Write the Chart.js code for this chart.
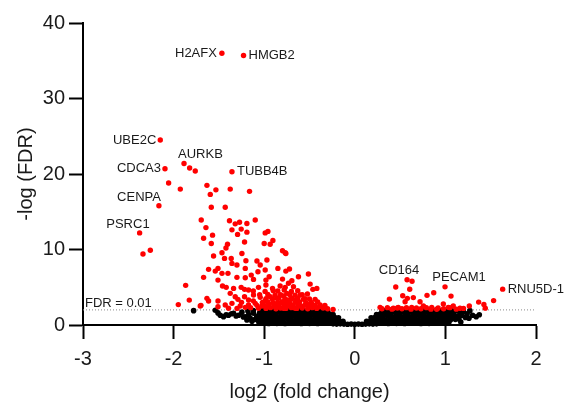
<!DOCTYPE html>
<html>
<head>
<meta charset="utf-8">
<script src="https://cdn.jsdelivr.net/npm/chart.js@4/dist/chart.umd.min.js"></script>
<style>
  html, body { margin: 0; padding: 0; background: #fff; }
  #wrap { width: 565px; height: 406px; }
</style>
</head>
<body>
<div id="wrap"><canvas id="volcano"></canvas></div>
<script>
// ── volcano plot: log2 fold change vs -log FDR ──────────────────

// labelled genes
const geneNames = ['H2AFX', 'HMGB2', 'UBE2C', 'CDCA3', 'AURKB', 'TUBB4B', 'CENPA', 'PSRC1', 'CD164', 'PECAM1', 'RNU5D-1'];
const geneX = [-1.467, -1.228, -2.147, -2.095, -1.885, -1.356, -2.162, -2.375, 0.577, 0.996, 1.632];
const geneY = [36.0, 35.7, 24.5, 20.7, 21.4, 20.3, 15.8, 12.2, 6.0, 5.05, 4.75];

// significant (FDR < 0.01) – red
const sigX = [
  -1.823, -1.761, -2.055, -1.926, -1.632, -1.595, -1.533, -1.375, -1.162,
  -2.257, -2.338, -1.584, -1.430,
  -1.695, -1.383, -1.320, -1.272, -1.191, -1.099,
  -1.643, -1.356, -1.254, -1.294, -1.191, -0.989, -0.959,
  -1.570, -1.669, -1.584, -1.217, -0.904, -1.000, -0.934,
  -1.405, -1.422, -1.466, -1.559, -1.438, -1.364, -1.246,
  -1.356, -1.301, -1.202, -1.080, -0.970, -0.798, -0.768, -1.044, -1.209,
  -1.614, -1.540, -1.510, -1.466, -1.400, -1.143, -1.069, -0.989, -0.849, -0.761,
  -1.669, -1.510, -1.301, -1.209, -1.118, -0.981, -0.945, -0.798,
  -1.460, -1.419, -1.338, -1.254, -1.217, -1.173, -1.063, -0.981, -0.908, -0.824, -0.768,
  -1.632, -1.614, -1.510, -1.375, -1.320, -1.290, -1.217, -1.173, -1.118, -1.044, -0.989, -0.934, -0.860, -0.787, -0.732,
  -1.706, -1.510, -1.430, -1.356, -1.265, -1.173, -1.099, -1.025, -0.945, -0.879, -0.824, -0.750,
  -1.394, -1.209, -1.063,
  -0.761, -0.721, -0.622, -0.512, -0.732, -0.695, -0.677, -0.493, -0.463, -0.779, -0.750,
  -0.603, -0.523, -0.567, -0.647, -0.438, -0.695, -0.768, -0.713, -0.622, -0.529, -0.456,
  -0.390, -0.383, -0.240, -0.584, -0.658, -0.787, -0.419,
  -1.867, -1.827, -1.948, -1.698,
  -0.98, -0.93, -0.87, -0.82, -0.76, -0.70, -0.64, -0.58, -0.52, -0.47, -0.42, -0.35, -0.30,
  -1.00, -0.95, -0.89, -0.84, -0.78, -0.68, -0.60, -0.55, -0.50, -0.44, -0.33,
  -1.02, -0.96, -0.90, -0.85, -0.80, -0.72, -0.66, -0.61, -0.54, -0.48, -0.41,
  -0.98, -0.91, -0.84, -0.77, -0.70, -0.63, -0.55, -0.50,
  -1.05, -0.96, -0.88, -0.82, -0.72, -0.66, -0.58,
  -1.12, -0.99, -0.90, -0.85, -0.70, -0.63,
  -1.30, -1.25, -1.15, -1.12, -1.08,
  0.632, 0.452, 0.606, 0.871, 0.797, 1.062, 0.529, 0.580, 0.646, 0.382,
  1.367, 1.532, 1.264, 1.425, 1.440,
  0.480, 0.555, 0.720, 0.757, 0.849, 0.977, 1.032, 1.087, 1.161, 0.279, 0.426, 0.628, 0.904,
  0.30, 0.36, 0.41, 0.47, 0.52, 0.57, 0.62, 0.68, 0.73, 0.79, 0.84, 0.92, 0.98, 1.05, 1.12, 1.20
];
const sigY = [
  20.8, 20.4, 18.8, 18.0, 18.5, 17.3, 17.9, 18.0, 17.7,
  9.9, 9.4, 15.6, 15.6,
  13.9, 13.8, 13.4, 13.6, 13.45, 13.9,
  12.9, 12.6, 12.7, 12.0, 12.3, 12.2, 12.4,
  11.9, 11.5, 10.8, 11.0, 11.2, 10.8, 10.7,
  10.7, 10.2, 9.56, 9.13, 8.82, 8.82, 9.48,
  8.16, 7.94, 8.51, 8.47, 8.60, 9.83, 9.56, 7.94, 7.50,
  7.37, 7.14, 7.50, 6.84, 6.84, 6.61, 7.05, 7.28, 7.50, 7.14,
  6.31, 5.95, 6.31, 6.26, 6.04, 5.95, 6.39, 6.08,
  5.16, 4.99, 4.85, 4.99, 4.72, 4.63, 4.99, 5.29, 4.85, 5.16, 4.99,
  3.53, 3.17, 3.17, 4.19, 3.74, 3.40, 3.74, 3.31, 3.97, 3.66, 3.21, 3.74, 3.53, 3.84, 3.31,
  2.51, 2.42, 2.65, 2.87, 2.51, 2.65, 2.87, 2.51, 2.78, 2.51, 2.87, 2.51,
  2.21, 2.34, 2.21,
  9.48, 7.41, 6.39, 6.75, 5.52, 5.86, 5.07, 5.42, 4.72, 4.63, 4.19,
  3.97, 4.10, 3.40, 3.31, 3.40, 3.53, 3.08, 2.65, 2.65, 2.78, 2.65,
  2.42, 2.65, 2.05, 2.42, 2.21, 2.21, 4.85,
  5.25, 3.3, 2.7, 2.6,
  2.2, 2.3, 2.15, 2.25, 2.2, 2.3, 2.2, 2.25, 2.15, 2.3, 2.2, 2.25, 2.15,
  2.6, 2.65, 2.55, 2.6, 2.7, 2.6, 2.55, 2.65, 2.6, 2.55, 2.6,
  3.0, 3.05, 2.95, 3.0, 3.1, 2.95, 3.0, 3.05, 2.95, 3.0, 3.05,
  3.5, 3.45, 3.55, 3.5, 3.45, 3.55, 3.5, 3.45,
  4.0, 4.05, 3.95, 4.0, 4.05, 3.95, 4.0,
  4.5, 4.45, 4.55, 4.5, 4.45, 4.55,
  2.2, 3.0, 2.3, 3.2, 2.6,
  5.8, 5.03, 4.73, 4.27, 3.93, 3.83, 3.88, 3.53, 3.63, 3.43,
  3.03, 3.23, 2.53, 2.73, 2.23,
  2.34, 3.08, 3.08, 2.51, 2.34, 2.78, 2.34, 2.51, 2.21, 2.34, 2.21, 2.34, 2.08,
  2.15, 2.3, 2.1, 2.25, 2.15, 2.3, 2.1, 2.25, 2.15, 2.3, 2.1, 2.25, 2.15, 2.3, 2.1, 2.2
];

// not significant – black
const nsX = [
  -1.04, -0.99, -0.95, -0.90, -0.86, -0.81, -0.77, -0.72, -0.68, -0.63, -0.59, -0.54, -0.50, -0.45, -0.41, -0.36, -0.32, -0.28,
  -1.06, -1.01, -0.97, -0.92, -0.88, -0.83, -0.79, -0.74, -0.70, -0.65, -0.61, -0.56, -0.52, -0.47, -0.43, -0.38, -0.34, -0.29,
  -1.08, -1.03, -0.98, -0.94, -0.89, -0.85, -0.80, -0.76, -0.71, -0.67, -0.62, -0.58, -0.53, -0.49, -0.44, -0.40, -0.35, -0.31,
  -1.05, -1.00, -0.96, -0.91, -0.87, -0.82, -0.78, -0.73, -0.69, -0.64, -0.60, -0.55, -0.51, -0.46, -0.42, -0.37, -0.33,
  -1.02, -0.97, -0.93, -0.88, -0.84, -0.79, -0.75, -0.70, -0.66, -0.61, -0.57, -0.52, -0.48, -0.43, -0.39, -0.34,
  -1.02, -0.95, -0.88, -0.81, -0.74, -0.67, -0.60, -0.53, -0.46, -0.39, -0.32,
  -1.779, -1.54, -1.51, -1.485, -1.449, -1.42, -1.394, -1.36, -1.338, -1.31, -1.283, -1.246, -1.23,
  -1.209, -1.191, -1.17, -1.154, -1.135, -1.118, -1.10, -1.08, -1.06, -1.044, -1.12, -1.18,
  -0.24, -0.20, -0.16, -0.12, -0.08, -0.04, 0.0, 0.04, 0.08, 0.12, 0.16, 0.20, 0.24,
  -0.26, -0.21, -0.17, -0.13, 0.13, 0.17, 0.21, 0.26,
  -0.27, -0.22, -0.18, 0.18, 0.22, 0.27,
  -0.28, -0.24, 0.24, 0.28,
  -0.30, 0.30,
  0.28, 0.32, 0.37, 0.41, 0.46, 0.50, 0.55, 0.59, 0.64, 0.68, 0.73, 0.77, 0.82, 0.86, 0.91, 0.95, 1.00, 1.04,
  0.30, 0.34, 0.39, 0.43, 0.48, 0.52, 0.57, 0.61, 0.66, 0.70, 0.75, 0.79, 0.84, 0.88, 0.93, 0.97, 1.02, 1.06, 1.11,
  0.31, 0.36, 0.40, 0.45, 0.49, 0.54, 0.58, 0.63, 0.67, 0.72, 0.76, 0.81, 0.85, 0.90, 0.94, 0.99, 1.03, 1.08, 1.13,
  0.32, 0.37, 0.41, 0.46, 0.50, 0.55, 0.59, 0.64, 0.68, 0.73, 0.77, 0.82, 0.86, 0.91, 0.95, 1.00, 1.04, 1.09, 1.16,
  0.34, 0.39, 0.43, 0.48, 0.52, 0.57, 0.61, 0.66, 0.70, 0.75, 0.79, 0.84, 0.88, 0.93, 0.97, 1.02, 1.07, 1.12,
  0.35, 0.42, 0.49, 0.56, 0.63, 0.70, 0.77, 0.84, 0.91, 0.98, 1.05,
  1.15, 1.18, 1.20, 1.22, 1.24, 1.26, 1.30, 1.34, 1.374, 1.27, 1.17
];
const nsY = [
  0.25, 0.3, 0.2, 0.28, 0.22, 0.3, 0.2, 0.27, 0.23, 0.3, 0.2, 0.28, 0.22, 0.3, 0.2, 0.27, 0.3, 0.35,
  0.7, 0.65, 0.75, 0.7, 0.65, 0.72, 0.68, 0.75, 0.7, 0.65, 0.72, 0.7, 0.75, 0.66, 0.7, 0.74, 0.68, 0.72,
  1.15, 1.2, 1.1, 1.15, 1.2, 1.1, 1.18, 1.12, 1.15, 1.2, 1.1, 1.16, 1.14, 1.2, 1.1, 1.15, 1.18, 1.2,
  1.6, 1.55, 1.65, 1.6, 1.55, 1.62, 1.58, 1.65, 1.6, 1.55, 1.62, 1.6, 1.65, 1.56, 1.6, 1.64, 1.6,
  1.92, 1.95, 1.9, 1.93, 1.95, 1.9, 1.94, 1.92, 1.95, 1.9, 1.93, 1.95, 1.9, 1.92, 1.95, 1.9,
  0.95, 1.4, 0.45, 0.95, 1.4, 0.45, 0.95, 1.4, 0.45, 0.95, 1.4,
  1.9, 1.95, 1.6, 1.3, 1.1, 1.35, 1.3, 1.5, 1.55, 1.2, 1.3, 1.7, 1.05,
  1.1, 0.66, 1.4, 0.89, 0.5, 1.55, 0.75, 1.1, 0.4, 0.66, 1.9, 1.85,
  0.15, 0.12, 0.15, 0.12, 0.1, 0.12, 0.1, 0.12, 0.1, 0.12, 0.15, 0.12, 0.15,
  0.55, 0.55, 0.5, 0.5, 0.5, 0.5, 0.55, 0.55,
  1.0, 1.0, 0.95, 0.95, 1.0, 1.0,
  1.45, 1.4, 1.4, 1.45,
  1.85, 1.85,
  0.25, 0.3, 0.2, 0.28, 0.22, 0.3, 0.2, 0.27, 0.23, 0.3, 0.2, 0.28, 0.22, 0.3, 0.25, 0.3, 0.35, 0.4,
  0.7, 0.65, 0.75, 0.7, 0.65, 0.72, 0.68, 0.75, 0.7, 0.65, 0.72, 0.7, 0.75, 0.66, 0.7, 0.74, 0.68, 0.72, 0.75,
  1.15, 1.2, 1.1, 1.15, 1.2, 1.1, 1.18, 1.12, 1.15, 1.2, 1.1, 1.16, 1.14, 1.2, 1.1, 1.15, 1.18, 1.2, 1.15,
  1.6, 1.55, 1.65, 1.6, 1.55, 1.62, 1.58, 1.65, 1.6, 1.55, 1.62, 1.6, 1.65, 1.56, 1.6, 1.64, 1.6, 1.55, 1.6,
  1.92, 1.95, 1.9, 1.93, 1.95, 1.9, 1.94, 1.92, 1.95, 1.9, 1.93, 1.95, 1.9, 1.92, 1.95, 1.9, 1.92, 1.9,
  0.45, 0.95, 1.4, 0.45, 0.95, 1.4, 0.45, 0.95, 1.4, 0.45, 0.95,
  0.8, 1.3, 1.75, 1.0, 1.5, 0.9, 1.3, 1.1, 1.35, 1.9, 0.4
];

// threshold line, -log10(0.01)
const fdrCut = 2;
const fdrText = 'FDR = 0.01';

// ── label placement for the named genes (style only) ──
const labelPlace = {
  'H2AFX':   { align: 'right',  dx: -5,  dy: 0 },
  'HMGB2':   { align: 'left',   dx: 5,   dy: 0 },
  'UBE2C':   { align: 'right',  dx: -4,  dy: 0 },
  'CDCA3':   { align: 'right',  dx: -4,  dy: 0 },
  'AURKB':   { align: 'left',   dx: -6,  dy: -9 },
  'TUBB4B':  { align: 'left',   dx: 5,   dy: 0 },
  'CENPA':   { align: 'right',  dx: 2,   dy: -8 },
  'PSRC1':   { align: 'right',  dx: 10,  dy: -8 },
  'CD164':   { align: 'center', dx: -8,  dy: -9 },
  'PECAM1':  { align: 'center', dx: 14,  dy: -9 },
  'RNU5D-1': { align: 'left',   dx: 5,   dy: 0 }
};

const FONT = "'Liberation Sans', Arial, sans-serif";
const INK = '#1a1a1a';

const geneLabels = {
  id: 'geneLabels',
  afterDatasetsDraw(chart) {
    const { ctx, scales: { x, y }, chartArea } = chart;
    ctx.save();
    ctx.font = '13px ' + FONT;
    ctx.fillStyle = INK;
    ctx.textBaseline = 'middle';
    geneNames.forEach((name, i) => {
      const p = labelPlace[name];
      ctx.textAlign = p.align;
      ctx.fillText(name, x.getPixelForValue(geneX[i]) + p.dx, y.getPixelForValue(geneY[i]) + p.dy);
    });
    // threshold caption
    ctx.textAlign = 'left';
    ctx.fillText(fdrText, chartArea.left + 2, y.getPixelForValue(fdrCut) - 6);
    ctx.restore();
  }
};

const redPoints = geneX.map((v, i) => ({ x: v, y: geneY[i] }))
  .concat(sigX.map((v, i) => ({ x: v, y: sigY[i] })));
const blackPoints = nsX.map((v, i) => ({ x: v, y: nsY[i] }));

const axisCommon = {
  grid: { drawOnChartArea: false, drawTicks: true, tickLength: 14, tickWidth: 2, tickColor: '#000' },
  border: { display: true, color: '#000', width: 2 },
};

new Chart(document.getElementById('volcano'), {
  type: 'scatter',
  data: {
    datasets: [
      {
        data: redPoints,
        backgroundColor: '#ff0000',
        borderWidth: 0,
        pointRadius: 2.7,
        pointHoverRadius: 2.7,
        clip: false
      },
      {
        data: blackPoints,
        backgroundColor: '#000000',
        borderWidth: 0,
        pointRadius: 2.8,
        pointHoverRadius: 2.8,
        clip: false
      },
      {
        type: 'line',
        data: [{ x: -3, y: fdrCut }, { x: 2, y: fdrCut }],
        borderColor: '#8a8a8a',
        borderWidth: 1,
        borderDash: [1, 2],
        pointRadius: 0,
        fill: false
      }
    ]
  },
  options: {
    responsive: true,
    maintainAspectRatio: false,
    animation: false,
    events: [],
    layout: { padding: { top: 23, right: 29, bottom: 0, left: 0 } },
    plugins: { legend: { display: false }, tooltip: { enabled: false } },
    scales: {
      x: {
        type: 'linear',
        min: -3,
        max: 2,
        ...axisCommon,
        ticks: { stepSize: 1, color: INK, padding: 8, font: { family: FONT, size: 20 } },
        title: {
          display: true,
          text: 'log2 (fold change)',
          color: INK,
          font: { family: FONT, size: 20 },
          padding: { top: 0, bottom: 2 }
        },
        afterFit(scale) { scale.height = 81; }
      },
      y: {
        min: 0,
        max: 40,
        ...axisCommon,
        ticks: { stepSize: 10, color: INK, padding: 4, font: { family: FONT, size: 20 } },
        title: {
          display: true,
          text: '-log (FDR)',
          color: INK,
          font: { family: FONT, size: 20 },
          padding: { top: 14, bottom: 0 }
        },
        afterFit(scale) { scale.width = 83; }
      }
    }
  },
  plugins: [geneLabels]
});
</script>
</body>
</html>
